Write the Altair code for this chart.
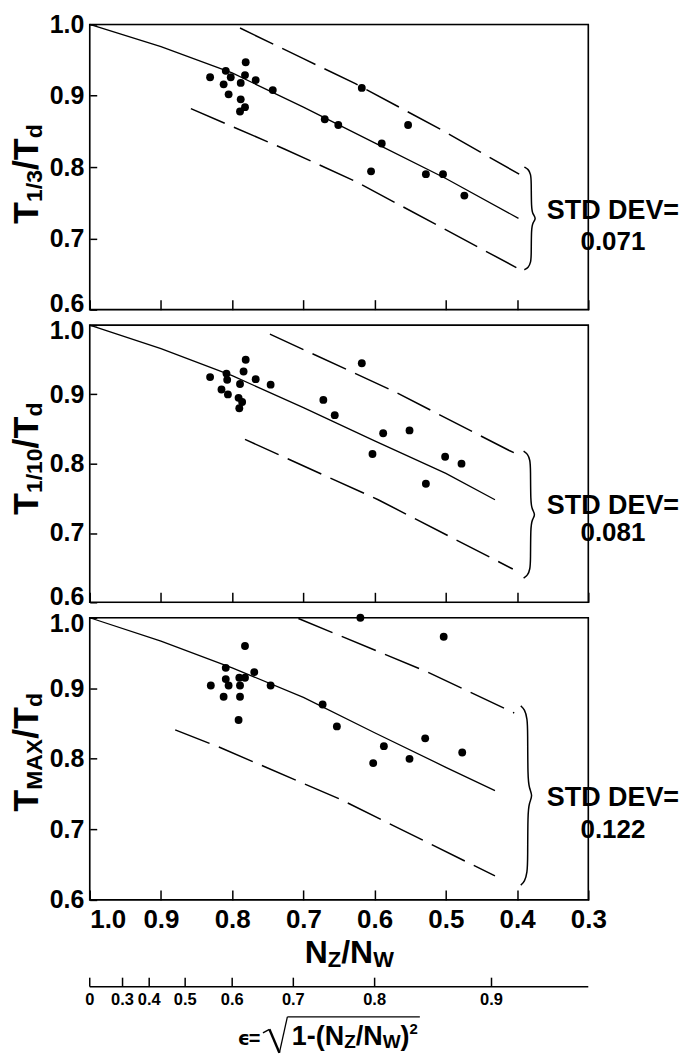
import altair as alt
import pandas as pd

FONT = "Liberation Sans"

# ---------------------------------------------------------------------------
# Measured period ratios against N_z/N_w (one pair of lists per panel)
# ---------------------------------------------------------------------------
nz_third = [0.831, 0.809, 0.802, 0.812, 0.805, 0.781, 0.782, 0.788, 0.788, 0.782, 0.789,
            0.767, 0.743, 0.670, 0.651, 0.618, 0.553, 0.590, 0.605, 0.528, 0.504, 0.474]
t_third = [0.926, 0.935, 0.926, 0.916, 0.902, 0.947, 0.929, 0.918, 0.895, 0.884, 0.878,
           0.922, 0.908, 0.867, 0.859, 0.911, 0.859, 0.833, 0.794, 0.790, 0.790, 0.760]

nz_tenth = [0.831, 0.808, 0.807, 0.815, 0.806, 0.781, 0.784, 0.789, 0.791, 0.786, 0.790,
            0.767, 0.746, 0.672, 0.656, 0.618, 0.588, 0.603, 0.551, 0.528, 0.501, 0.478]
t_tenth = [0.925, 0.930, 0.921, 0.907, 0.900, 0.950, 0.933, 0.915, 0.895, 0.889, 0.880,
           0.922, 0.914, 0.892, 0.870, 0.945, 0.844, 0.814, 0.848, 0.771, 0.810, 0.800]

nz_max = [0.782, 0.809, 0.809, 0.805, 0.830, 0.812, 0.790, 0.782, 0.769, 0.789, 0.789,
          0.791, 0.746, 0.673, 0.653, 0.620, 0.503, 0.587, 0.602, 0.551, 0.529, 0.477]
t_max = [0.960, 0.929, 0.913, 0.904, 0.904, 0.888, 0.915, 0.915, 0.923, 0.904, 0.888,
         0.855, 0.904, 0.877, 0.846, 1.000, 0.973, 0.818, 0.794, 0.800, 0.829, 0.809]

# Mean curves and the +/- one standard deviation bands
mean_third_x = [1.0, 0.9, 0.8, 0.7, 0.6, 0.5, 0.398]
mean_third_y = [1.0, 0.969, 0.932, 0.884, 0.834, 0.784, 0.728]
upper_third_x = [0.789, 0.700, 0.627, 0.504, 0.397]
upper_third_y = [0.995, 0.952, 0.917, 0.851, 0.790]
lower_third_x = [0.858, 0.726, 0.627, 0.401]
lower_third_y = [0.882, 0.825, 0.780, 0.659]

mean_tenth_x = [1.0, 0.9, 0.8, 0.7, 0.6, 0.5, 0.431]
mean_tenth_y = [1.0, 0.966, 0.927, 0.881, 0.833, 0.786, 0.748]
upper_tenth_x = [0.747, 0.574, 0.411, 0.398]
upper_tenth_y = [0.987, 0.905, 0.819, 0.813]
lower_tenth_x = [0.782, 0.595, 0.406]
lower_tenth_y = [0.835, 0.748, 0.648]

mean_max_x = [1.0, 0.9, 0.8, 0.7, 0.6, 0.5, 0.431]
mean_max_y = [1.0, 0.967, 0.929, 0.887, 0.837, 0.788, 0.755]
upper_max_x = [0.707, 0.528, 0.404]
upper_max_y = [0.999, 0.924, 0.865]
lower_max_x = [0.880, 0.817, 0.649, 0.431]
lower_max_y = [0.841, 0.816, 0.743, 0.634]

# Brace spanning each band: position and vertical extent
brace_x = [0.380, 0.381, 0.385]
brace_top = [0.800, 0.818, 0.875]
brace_bottom = [0.656, 0.635, 0.621]

std_devs = ["0.071", "0.081", "0.122"]
subscripts = ["1/3", "1/10", "MAX"]

x_ticks = [1.0, 0.9, 0.8, 0.7, 0.6, 0.5, 0.4, 0.3]
y_ticks = [1.0, 0.9, 0.8, 0.7, 0.6]
eps_ticks = [0.0, 0.3, 0.4, 0.5, 0.6, 0.7, 0.8, 0.9]
eps_labels = ["0", "0.3", "0.4", "0.5", "0.6", "0.7", "0.8", "0.9"]

# ---------------------------------------------------------------------------
# Layout
# ---------------------------------------------------------------------------
W = 500
HEIGHTS = [286, 278, 283]
GAP = 15.5
PX_PER_UNIT = W / 0.7

X_SCALE = alt.Scale(domain=[0.3, 1.0], reverse=True, nice=False, zero=False)
Y_SCALE = alt.Scale(domain=[0.6, 1.0], nice=False, zero=False)

# Helvetica-Bold advance widths (per 1000 em) for positioning composed labels
ADV = {"T": 611, "1": 556, "/": 278, "3": 556, "0": 556, "M": 833, "A": 722, "X": 667,
       "d": 611, "N": 722, "Z": 611, "W": 944, "(": 333, ")": 333, "-": 333, "=": 584,
       "\u03f5": 520, "\u00b2": 333, "2": 556}


def adv(s, size):
    return sum(ADV.get(c, 600) for c in s) * size / 1000.0


ONE = pd.DataFrame({"k": [0]})


def x_axis(show_labels):
    return alt.Axis(
        values=x_ticks, format=".1f", title=None, domain=False, grid=False,
        tickSize=10, tickWidth=1.5, tickColor="black", offset=-10,
        labels=show_labels, labelFont=FONT, labelFontSize=26, labelFontWeight="bold",
        labelColor="black", labelPadding=7, labelFlush=False, labelOverlap=False,
        labelAlign={"condition": {"test": "datum.value > 0.99", "value": "left"}, "value": "center"},
    )


# nudges keeping the end labels of neighbouring panels apart
Y_LABEL_NUDGE = [(-6, 0), (-6, 5), (0, 6)]


def y_axis(k):
    low, high = Y_LABEL_NUDGE[k]
    conds = []
    if low:
        conds.append({"test": "datum.value < 0.61", "value": low})
    if high:
        conds.append({"test": "datum.value > 0.99", "value": high})
    kw = {}
    if conds:
        kw["labelOffset"] = {"condition": conds, "value": 0}
    return alt.Axis(
        values=y_ticks, format=".1f", title=None, domain=False, grid=False,
        tickSize=7, tickWidth=1.5, tickColor="black", offset=-7,
        labelFont=FONT, labelFontSize=25, labelFontWeight="bold", labelColor="black",
        labelPadding=6, labelFlush=False, labelOverlap=False, **kw,
    )


def label(txt, px, py, size, angle=0, align="left", baseline="alphabetic",
          weight="bold", font=FONT):
    kw = dict(text=txt, fontSize=size, font=font, fontWeight=weight, align=align,
              baseline=baseline, color="black")
    if angle:
        kw["angle"] = angle
    return alt.Chart(ONE).mark_text(**kw).encode(x=alt.value(px), y=alt.value(py))


def stroke(x1, y1, x2, y2, width=1.5):
    return alt.Chart(ONE).mark_rule(color="black", strokeWidth=width).encode(
        x=alt.value(x1), y=alt.value(y1), x2=alt.value(x2), y2=alt.value(y2))


def line_df(xs, ys):
    return pd.DataFrame({"nz": xs, "t": ys, "i": list(range(len(xs)))})


# "}" outline: (horizontal offset in px, fraction of the span from the top)
BRACE_SHAPE = [(-7, 0.0), (-3, 0.02), (-0.5, 0.07), (0, 0.14), (0, 0.40), (1.5, 0.46),
               (5, 0.5), (1.5, 0.54), (0, 0.60), (0, 0.86), (-0.5, 0.93), (-3, 0.98), (-7, 1.0)]


def brace_df(bx, top, bottom):
    rows = []
    for i, (dx, u) in enumerate(BRACE_SHAPE):
        rows.append({"nz": bx - dx / PX_PER_UNIT, "t": top - u * (top - bottom), "i": i})
    return pd.DataFrame(rows)


def panel(k, nz, t, mean, upper, lower, title_center, stat_y, bottom):
    h = HEIGHTS[k]
    xe = alt.X("nz:Q", scale=X_SCALE, axis=x_axis(bottom))
    ye = alt.Y("t:Q", scale=Y_SCALE, axis=y_axis(k))
    order = alt.Order("i:Q")

    pts = alt.Chart(pd.DataFrame({"nz": nz, "t": t})).mark_circle(
        size=62, color="black", opacity=1).encode(x=xe, y=ye)
    solid = alt.Chart(line_df(*mean)).mark_line(
        color="black", strokeWidth=1.3).encode(x=xe, y=ye, order=order)
    up = alt.Chart(line_df(*upper)).mark_line(
        color="black", strokeWidth=1.5, strokeDash=[37, 10]).encode(x=xe, y=ye, order=order)
    lo = alt.Chart(line_df(*lower)).mark_line(
        color="black", strokeWidth=1.5, strokeDash=[37, 10]).encode(x=xe, y=ye, order=order)
    brace = alt.Chart(brace_df(brace_x[k], brace_top[k], brace_bottom[k])).mark_line(
        color="black", strokeWidth=1.5, interpolate="basis").encode(x=xe, y=ye, order=order)
    frame = alt.Chart(ONE).mark_rect(filled=False, stroke="black", strokeWidth=1.6).encode(
        x=alt.value(0), x2=alt.value(W), y=alt.value(0), y2=alt.value(h))

    layers = [frame, pts, solid, up, lo, brace,
              label("STD DEV=", 524.7, stat_y[0], 27, align="center", baseline="middle"),
              label(std_devs[k], 524.7, stat_y[1], 26, align="center", baseline="middle")]

    # rotated axis title  T_sub / T_d
    F, f = 36, 23
    pieces = [("T", F, -52), (subscripts[k], f, -48), ("/T", F, -52), ("d", f, -48)]
    total = sum(adv(s, z) for s, z, _ in pieces)
    yy = title_center + total / 2
    for s, z, bx in pieces:
        layers.append(label(s, bx, yy, z, angle=270))
        yy -= adv(s, z)

    if k == 0:
        # invisible guide fixing the top-left corner of the canvas
        layers.append(alt.Chart(ONE).mark_rule(opacity=0, strokeWidth=0.1).encode(
            x=alt.value(-89.3), x2=alt.value(595.7), y=alt.value(-21.7)))

    if bottom:
        # axis title N_Z / N_W
        F2, f2 = 32, 22
        xx = 215.7
        for s, z, by in [("N", F2, 346.6), ("Z", f2, 350.6), ("/N", F2, 346.6), ("W", f2, 350.6)]:
            layers.append(label(s, xx, by, z))
            xx += adv(s, z)

        # secondary eccentricity scale drawn on the same N_z/N_w positions
        eps_df = pd.DataFrame({"eps": eps_ticks, "lab": eps_labels})
        eps_base = alt.Chart(eps_df).transform_calculate(r="sqrt(1 - datum.eps * datum.eps)")
        exe = alt.X("r:Q", scale=X_SCALE, axis=x_axis(bottom))
        layers.append(alt.Chart(pd.DataFrame({"a": [1.0], "b": [0.3]})).mark_rule(
            color="black", strokeWidth=1.5).encode(
            x=alt.X("a:Q", scale=X_SCALE, axis=x_axis(bottom)), x2="b:Q", y=alt.value(370)))
        layers.append(eps_base.mark_rule(color="black", strokeWidth=1.5).encode(
            x=exe, y=alt.value(361), y2=alt.value(370)))
        layers.append(eps_base.mark_text(font=FONT, fontSize=16.5, fontWeight="bold",
                                         color="black", baseline="middle", align="center").encode(
            x=exe, y=alt.value(383.3), text="lab:N"))

        # eccentricity definition  eps = sqrt(1 - (N_Z/N_W)^2)
        layers.append(label("\u03f5", 148.5, 428.3, 19, font="DejaVu Sans"))
        layers.append(label("=", 159.5, 428.3, 20))
        # radical sign
        layers.append(stroke(173.7, 416.3, 180.2, 412.8, 1.4))
        layers.append(stroke(180.2, 412.8, 190.2, 436.3, 2.4))
        layers.append(stroke(190.2, 436.3, 198.2, 400.3, 1.3))
        xx = 202.7
        for s, z, by in [("1-(N", 27, 428.3), ("Z", 19, 432), ("/N", 27, 428.3),
                         ("W", 19, 432), (")", 27, 428.3), ("2", 15, 417)]:
            layers.append(label(s, xx, by, z))
            xx += adv(s, z)
        layers.append(stroke(198.2, 400.3, xx + 2, 400.3, 1.4))

        # invisible guide fixing the bottom edge of the canvas
        layers.append(alt.Chart(ONE).mark_rule(opacity=0, strokeWidth=0.1).encode(
            x=alt.value(0), y=alt.value(0), y2=alt.value(440.3)))

    return alt.layer(*layers).properties(width=W, height=h)


p1 = panel(0, nz_third, t_third, (mean_third_x, mean_third_y), (upper_third_x, upper_third_y),
           (lower_third_x, lower_third_y), 150, (187, 218.6), False)
p2 = panel(1, nz_tenth, t_tenth, (mean_tenth_x, mean_tenth_y), (upper_tenth_x, upper_tenth_y),
           (lower_tenth_x, lower_tenth_y), 134, (181.7, 208.4), False)
p3 = panel(2, nz_max, t_max, (mean_max_x, mean_max_y), (upper_max_x, upper_max_y),
           (lower_max_x, lower_max_y), 135, (181.3, 213.3), True)

chart = (
    alt.vconcat(p1, p2, p3, spacing=GAP, bounds="flush")
    .properties(padding=0, background="white")
    .configure_view(strokeWidth=0)
    .configure(font=FONT)
)

chart.save("out.html", embed_options={"renderer": "svg", "actions": False})
